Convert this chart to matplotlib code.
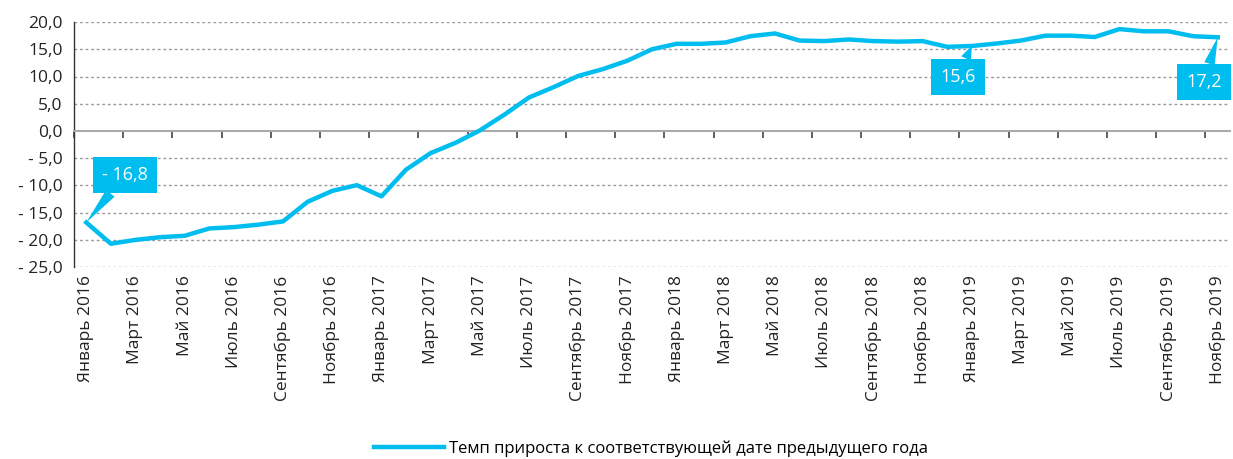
import matplotlib.pyplot as plt
from matplotlib.ticker import FixedLocator

plt.rcParams['font.family'] = ['Open Sans', 'DejaVu Sans']

# monthly growth rate, Jan 2016 .. Nov 2019
values = [-16.8, -20.7, -20.0, -19.5, -19.25, -17.9, -17.65, -17.2, -16.6, -13.0,
          -11.0, -9.95, -12.0, -7.1, -4.06, -2.2, 0.1, 3.0, 6.15, 8.05,
          10.1, 11.35, 12.9, 15.0, 16.0, 16.0, 16.25, 17.4, 17.9, 16.6,
          16.5, 16.8, 16.5, 16.4, 16.5, 15.45, 15.6, 16.05, 16.6, 17.5,
          17.5, 17.25, 18.7, 18.3, 18.3, 17.4, 17.2]
months = ['Январь', 'Февраль', 'Март', 'Апрель', 'Май', 'Июнь',
          'Июль', 'Август', 'Сентябрь', 'Октябрь', 'Ноябрь', 'Декабрь']
years = [2016, 2017, 2018, 2019]
categories = [f'{m} {y}' for y in years for m in months][:len(values)]

yticks = [-25, -20, -15, -10, -5, 0, 5, 10, 15, 20]
ytick_labels = ['- 25,0', '- 20,0', '- 15,0', '- 10,0', '- 5,0',
                '0,0', '5,0', '10,0', '15,0', '20,0']

# labelled points: (index, text, offset in points)
callouts = [(0, '- 16,8', (28, 34)), (36, '15,6', (-10, -22)), (46, '17,2', (-10, -32))]

line_color = '#00BDF0'
legend_label = 'Темп прироста к соответствующей дате предыдущего года'

fig = plt.figure(figsize=(12.33, 4.59), dpi=100)
ax = fig.add_axes([0.060, 0.418, 0.9376, 0.534])

x = list(range(len(values)))
ax.plot(x, values, color=line_color, lw=3.2, label=legend_label,
        solid_joinstyle='round', zorder=3)

ax.set_xlim(-0.5, len(values) - 0.5)
ax.set_ylim(-25, 20)

# grid lines
for yv in yticks:
    if yv != 0:
        ax.axhline(yv, color='#999999', lw=1.0, ls=(0, (2, 2)), zorder=1)

ax.set_yticks(yticks)
ax.set_yticklabels(ytick_labels, fontsize=12.5, color='#222222')
ax.tick_params(axis='y', length=0, pad=8)

for s in ['top', 'right']:
    ax.spines[s].set_visible(False)
ax.spines['left'].set_color('#333333')
ax.spines['left'].set_linewidth(1.0)

# zero axis with tick marks between every second category
ax.spines['bottom'].set_position(('data', 0))
ax.spines['bottom'].set_color('#aaaaaa')
ax.spines['bottom'].set_linewidth(1.5)
ax.xaxis.set_major_locator(FixedLocator([i - 0.5 for i in range(0, len(values) + 1, 2)]))
ax.tick_params(axis='x', direction='out', length=5, width=1.2, color='#444444',
               labelbottom=False)

# category labels at the bottom
sec = ax.secondary_xaxis('bottom')
sec.spines['bottom'].set_visible(False)
sec.set_xticks(x[::2])
sec.set_xticklabels(categories[::2], rotation=90, fontsize=12.5, color='#222222')
sec.tick_params(axis='x', length=0, pad=6)

for idx, txt, off in callouts:
    ax.annotate(txt, xy=(idx, values[idx]), xytext=off, textcoords='offset points',
                ha='center', va='center', fontsize=13, color='white',
                bbox=dict(boxstyle='square,pad=0.5', fc=line_color, ec='none'),
                arrowprops=dict(arrowstyle='wedge,tail_width=0.6', fc=line_color,
                                ec='none', shrinkA=0, shrinkB=0),
                zorder=5)

fig.legend(loc='center', bbox_to_anchor=(0.528, 0.022), frameon=False,
           fontsize=12, handlelength=4.2, handletextpad=0.3)

fig.savefig('out.png', dpi=100)
